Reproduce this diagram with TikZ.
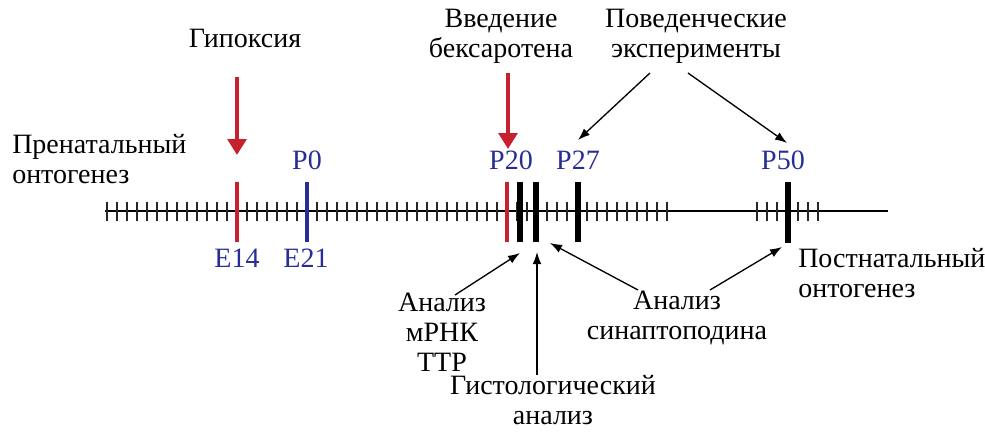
\documentclass[tikz,border=0pt]{standalone}
\usepackage{fontspec}
\setmainfont{Liberation Serif}
\usetikzlibrary{arrows.meta}
\definecolor{myred}{RGB}{200,32,45}
\definecolor{myblue}{RGB}{40,45,150}
\begin{document}
\begin{tikzpicture}[x=0.75pt,y=-0.75pt,
  lbl/.style={font=\fontsize{21}{22.5}\selectfont, align=center, inner sep=0pt},
  blbl/.style={lbl, text=myblue},
  ticks/.style={line width=1pt, black!85},
  markr/.style={myred, line width=2.4pt},
  markb/.style={myblue, line width=2.4pt},
  markk/.style={black, line width=3.8pt},
  redarr/.style={myred, line width=3.6pt, -{Triangle[length=12pt,width=14pt]}},
  arr/.style={black, line width=1pt, -{Latex[length=9pt,width=6.5pt]}}]
\useasboundingbox (0,0) rectangle (985,432);

% axis
\draw[line width=2.2pt] (105,211) -- (888,211);
\foreach \x in {107,117,...,667} \draw[ticks] (\x,202) -- (\x,221);
\foreach \x in {757,767,777,798,808,818} \draw[ticks] (\x,202) -- (\x,221);
\draw[markr] (237,182) -- (237,242);
\draw[markb] (307,182) -- (307,242);
\draw[markr] (507,182) -- (507,242);
\draw[markk] (520,182) -- (520,242);
\draw[markk] (536,182) -- (536,242);
\draw[markk] (578,182) -- (578,242);
\draw[markk] (788,182) -- (788,243);

% labels
\node[lbl] (hyp) at (245,38) {Гипоксия};
\node[lbl] (bex) at (501,36) {Введение\\бексаротена};
\node[lbl] (beh) at (696,36) {Поведенческие\\эксперименты};
\node[lbl, align=left, anchor=west] (pre) at (12,159) {Пренатальный\\онтогенез};
\node[lbl, align=left, anchor=west] (post) at (798,273) {Постнатальный\\онтогенез};
\node[blbl] (p0) at (307,160) {P0};
\node[blbl] (p20) at (511,160) {P20};
\node[blbl] (p27) at (578,160) {P27};
\node[blbl] (p50) at (783,160) {P50};
\node[blbl] (e14) at (237,258) {E14};
\node[blbl] (e21) at (306,258) {E21};
\node[lbl] (mrna) at (442,332) {Анализ\\мРНК\\ТТР};
\node[lbl] (hist) at (553,400) {Гистологический\\анализ};
\node[lbl] (syn) at (677,318) {Анализ\\синаптоподина};

% arrow end points
\coordinate (hypS) at (237,77);
\coordinate (hypE) at (237,155);
\coordinate (bexS) at (508,73);
\coordinate (bexE) at (508,149);
\coordinate (behL) at (650,73);
\coordinate (behR) at (688,73);
\coordinate (t27) at (578,140);
\coordinate (t50) at (787,143);
\coordinate (mrS) at (455,295);
\coordinate (b1) at (520,253);
\coordinate (hiS) at (537,375);
\coordinate (b2) at (537,252);
\coordinate (syL) at (638,290);
\coordinate (syR) at (710,290);
\coordinate (b3) at (550,243);
\coordinate (b4) at (782,247);

\draw[redarr] (hypS) -- (hypE);
\draw[redarr] (bexS) -- (bexE);
\draw[arr] (behL) -- (t27);
\draw[arr] (behR) -- (t50);
\draw[arr] (mrS) -- (b1);
\draw[arr] (hiS) -- (b2);
\draw[arr] (syL) -- (b3);
\draw[arr] (syR) -- (b4);
\end{tikzpicture}
\end{document}
